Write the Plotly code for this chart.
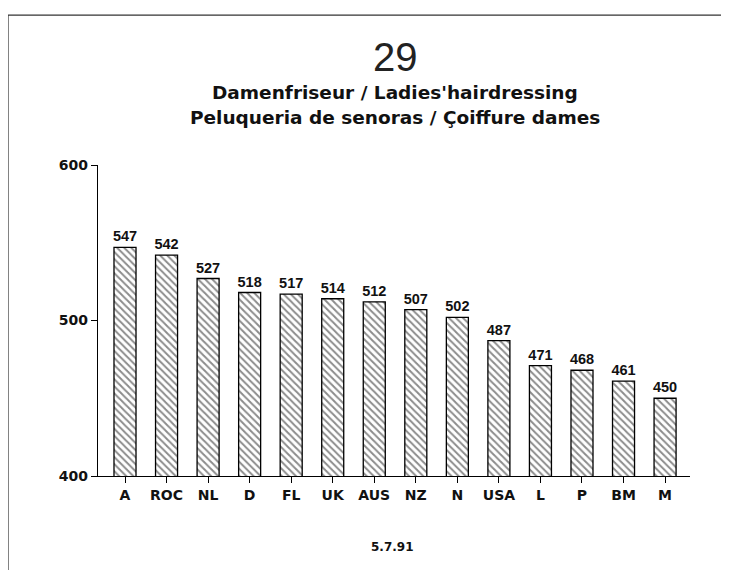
import plotly.graph_objects as go

# Data
countries = ["A", "ROC", "NL", "D", "FL", "UK", "AUS", "NZ", "N", "USA", "L", "P", "BM", "M"]
values = [547, 542, 527, 518, 517, 514, 512, 507, 502, 487, 471, 468, 461, 450]
y_ticks = [400, 500, 600]

arial = "Liberation Sans, Arial, sans-serif"
wide = "DejaVu Sans, sans-serif"

fig = go.Figure()

fig.add_trace(go.Bar(
    x=countries, y=values, base=0,
    width=0.53,
    marker=dict(color="white", line=dict(color="black", width=1.3),
                pattern=dict(shape="\\", fgcolor="#1a1a1a", bgcolor="white", size=5, solidity=0.4)),
    text=[str(v) for v in values], textposition="outside", cliponaxis=False,
    constraintext="none",
    textfont=dict(family=arial, size=14.5, color="#111111", weight="bold"),
    showlegend=False,
))

fig.update_xaxes(range=[-0.65, 13.6], showline=True, linecolor="black", linewidth=1.2,
                 ticks="outside", ticklen=6, tickcolor="black",
                 tickfont=dict(family=wide, size=14, color="#111111", weight="bold"),
                 showgrid=False, zeroline=False)
fig.update_yaxes(range=[400, 600], tickvals=y_ticks, showline=True, linecolor="black", linewidth=1.2,
                 ticks="outside", ticklen=6, tickcolor="black",
                 tickfont=dict(family=wide, size=14, color="#111111", weight="bold"),
                 showgrid=False, zeroline=False)

# Frame of the scanned page
fig.add_shape(type="line", xref="paper", yref="paper", x0=-0.152, x1=1.1, y0=1.482, y1=1.482,
              line=dict(color="#333333", width=1.2))
fig.add_shape(type="line", xref="paper", yref="paper", x0=-0.152, x1=-0.152, y0=1.482, y1=-0.31,
              line=dict(color="#333333", width=1.2))

# Titles
fig.add_annotation(text="29", xref="paper", yref="paper", x=0.502, y=1.347, yanchor="middle",
                   showarrow=False, font=dict(family=arial, size=40, color="#222222"))
fig.add_annotation(text="Damenfriseur / Ladies'hairdressing", xref="paper", yref="paper",
                   x=0.502, y=1.232, yanchor="middle", showarrow=False,
                   font=dict(family=wide, size=18.5, color="#111111", weight="bold"))
fig.add_annotation(text="Peluqueria de senoras / Çoiffure dames", xref="paper", yref="paper",
                   x=0.502, y=1.154, yanchor="middle", showarrow=False,
                   font=dict(family=wide, size=18.5, color="#111111", weight="bold"))
fig.add_annotation(text="5.7.91", xref="paper", yref="paper", x=0.498, y=-0.228, yanchor="middle",
                   showarrow=False, font=dict(family=wide, size=12, color="#111111", weight="bold"))

# the body of the page adds 8px, so margins are shifted by that much
fig.update_layout(width=729, height=570, margin=dict(l=90, r=47, t=157, b=102),
                  plot_bgcolor="white", paper_bgcolor="white")

fig.write_html("out.html")
